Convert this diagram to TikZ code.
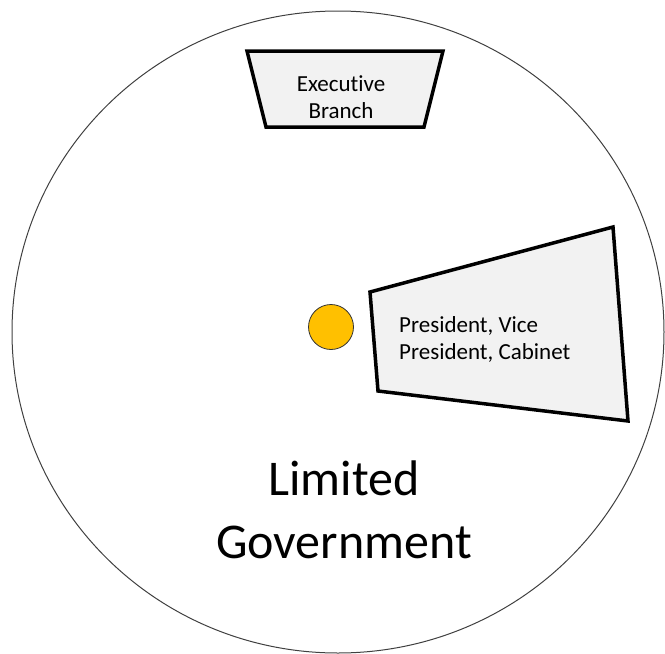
\documentclass[tikz,border=0pt]{standalone}
\usepackage{fontspec}
\setmainfont{Carlito}[Ligatures=NoCommon]
\begin{document}
\begin{tikzpicture}[x=1pt,y=-1pt,
  panel/.style={draw=black,line width=3.5pt,line join=miter,fill=panelgray},
  label/.style={font=\fontsize{23}{27}\selectfont,align=center,inner sep=0pt},
  biglabel/.style={font=\fontsize{50}{63}\selectfont,align=center,inner sep=0pt}]
\definecolor{panelgray}{HTML}{F2F2F2}
\definecolor{gold}{HTML}{FFC000}
\useasboundingbox (0,0) rectangle (665,654);
% outer boundary
\draw[line width=1pt,draw=black!75] (338,332) ellipse [x radius=326, y radius=321];
% top panel
\draw[panel] (247,51) -- (443,51) -- (424,127) -- (266,127) -- cycle;
\node[label] (exec) at (341,97) {Executive\\Branch};
% side panel
\draw[panel] (370,292) -- (613,227) -- (628,421) -- (378,391) -- cycle;
\node[label,align=left,anchor=west] (pres) at (399,339) {President, Vice\\President, Cabinet};
% small dot
\node[circle,draw=black!80,line width=0.8pt,fill=gold,minimum size=45pt,inner sep=0pt] (dot) at (331,327) {};
% caption
\node[biglabel] (lim) at (344,510) {Limited\\Government};
\end{tikzpicture}
\end{document}
